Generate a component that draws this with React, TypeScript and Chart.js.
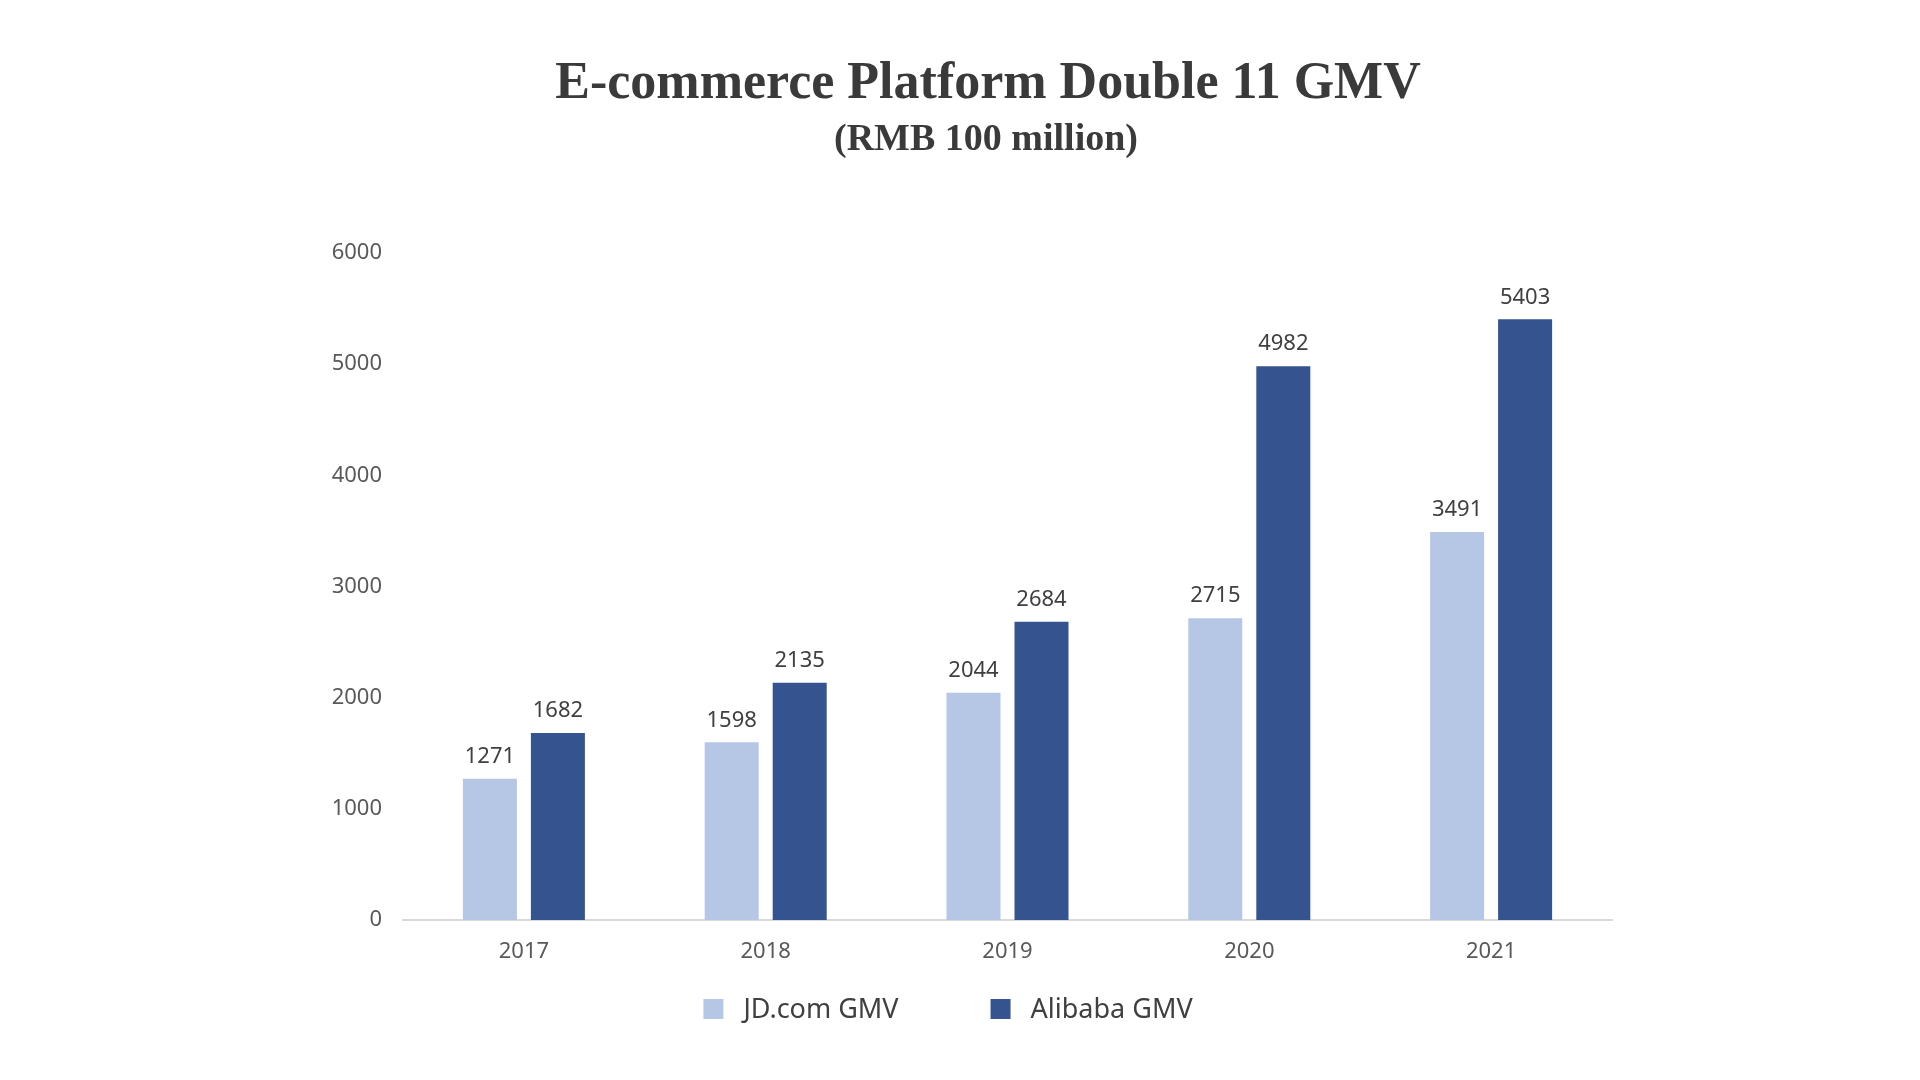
import React, { useEffect, useRef } from 'react';
import { Chart, registerables } from 'chart.js';

Chart.register(...registerables);

const titleText = 'E-commerce Platform Double 11 GMV';
const subtitleText = '(RMB 100 million)';
const categories = ['2017', '2018', '2019', '2020', '2021'];
const seriesLabels = ['JD.com GMV', 'Alibaba GMV'];
const jdValues = [1271, 1598, 2044, 2715, 3491];
const alibabaValues = [1682, 2135, 2684, 4982, 5403];
const yMin = 0;
const yMax = 6000;
const yStep = 1000;

const JD_COLOR = '#B6C7E6';
const ALI_COLOR = '#35538F';
const SANS = '"Noto Sans", "Open Sans", sans-serif';

const valueLabelPlugin = {
  id: 'valueLabels',
  afterDatasetsDraw(chart: any) {
    const { ctx } = chart;
    ctx.save();
    ctx.font = `22px ${SANS}`;
    ctx.fillStyle = '#404040';
    ctx.textAlign = 'center';
    ctx.textBaseline = 'middle';
    chart.data.datasets.forEach((ds: any, di: number) => {
      const meta = chart.getDatasetMeta(di);
      meta.data.forEach((bar: any, i: number) => {
        ctx.fillText(String(ds.data[i]), bar.x, bar.y - 22);
      });
    });
    ctx.restore();
  },
};

const bottomLegendPlugin = {
  id: 'bottomLegend',
  afterDraw(chart: any, _args: any, opts: any) {
    const { ctx } = chart;
    ctx.save();
    ctx.font = `${opts.fontSize}px ${SANS}`;
    ctx.textAlign = 'left';
    ctx.textBaseline = 'middle';
    const items = chart.data.datasets.map((ds: any) => {
      const tw = ctx.measureText(ds.label).width;
      return { text: ds.label, color: ds.backgroundColor, w: opts.box + opts.gap + tw };
    });
    const total = items.reduce((a: number, it: any) => a + it.w, 0) + opts.spacing * (items.length - 1);
    let x = opts.centerX - total / 2;
    items.forEach((it: any) => {
      ctx.fillStyle = it.color;
      ctx.fillRect(x, opts.centerY - opts.box / 2, opts.box, opts.box);
      ctx.fillStyle = opts.color;
      ctx.fillText(it.text, x + opts.box + opts.gap, opts.centerY + 1);
      x += it.w + opts.spacing;
    });
    ctx.restore();
  },
};

export default function App() {
  const canvasRef = useRef<HTMLCanvasElement | null>(null);

  useEffect(() => {
    if (!canvasRef.current) return;
    const chart = new Chart(canvasRef.current, {
      type: 'bar',
      data: {
        labels: categories,
        datasets: [
          {
            label: seriesLabels[0],
            data: jdValues,
            backgroundColor: JD_COLOR,
            categoryPercentage: 0.5625,
            barPercentage: 0.794,
          },
          {
            label: seriesLabels[1],
            data: alibabaValues,
            backgroundColor: ALI_COLOR,
            categoryPercentage: 0.5625,
            barPercentage: 0.794,
          },
        ],
      },
      options: {
        responsive: false,
        animation: false,
        devicePixelRatio: 1,
        layout: { padding: { left: 282, right: 308, top: 253, bottom: 100 } },
        plugins: {
          legend: { display: false },
          tooltip: { enabled: false },
          title: { display: false },
          bottomLegend: {
            centerX: 948,
            centerY: 1009,
            box: 20,
            gap: 20,
            spacing: 92,
            fontSize: 27,
            color: '#404040',
          },
        } as any,
        scales: {
          x: {
            grid: { display: false, drawTicks: false },
            border: { display: true, color: '#D9D9D9', width: 2 },
            ticks: { color: '#595959', font: { family: SANS, size: 22 }, padding: 19 },
            afterFit: (s: any) => {
              s.height = 60;
            },
          },
          y: {
            min: yMin,
            max: yMax,
            grid: { display: false, drawTicks: false },
            border: { display: false },
            ticks: {
              stepSize: yStep,
              padding: 21,
              color: '#595959',
              font: { family: SANS, size: 22 },
              callback: (v: any) => String(v),
            },
            afterFit: (s: any) => {
              s.width = 121;
            },
          },
        },
      },
      plugins: [valueLabelPlugin, bottomLegendPlugin],
    } as any);
    return () => chart.destroy();
  }, []);

  return (
    <div style={{ position: 'absolute', left: 0, top: 0, width: 1920, height: 1080, background: '#ffffff', overflow: 'hidden' }}>
      <canvas ref={canvasRef} width={1920} height={1080} style={{ position: 'absolute', left: 0, top: 0, width: 1920, height: 1080 }} />
      <div
        style={{
          position: 'absolute',
          left: 488,
          width: 1000,
          top: 55,
          textAlign: 'center',
          fontFamily: '"Liberation Serif", "DejaVu Serif", serif',
          fontWeight: 700,
          fontSize: 52,
          lineHeight: '52px',
          color: '#3a3a3a',
          whiteSpace: 'nowrap',
        }}
      >
        {titleText}
      </div>
      <div
        style={{
          position: 'absolute',
          left: 486,
          width: 1000,
          top: 118,
          textAlign: 'center',
          fontFamily: '"Liberation Serif", "DejaVu Serif", serif',
          fontWeight: 700,
          fontSize: 38,
          lineHeight: '38px',
          color: '#3a3a3a',
          whiteSpace: 'nowrap',
        }}
      >
        {subtitleText}
      </div>
    </div>
  );
}
